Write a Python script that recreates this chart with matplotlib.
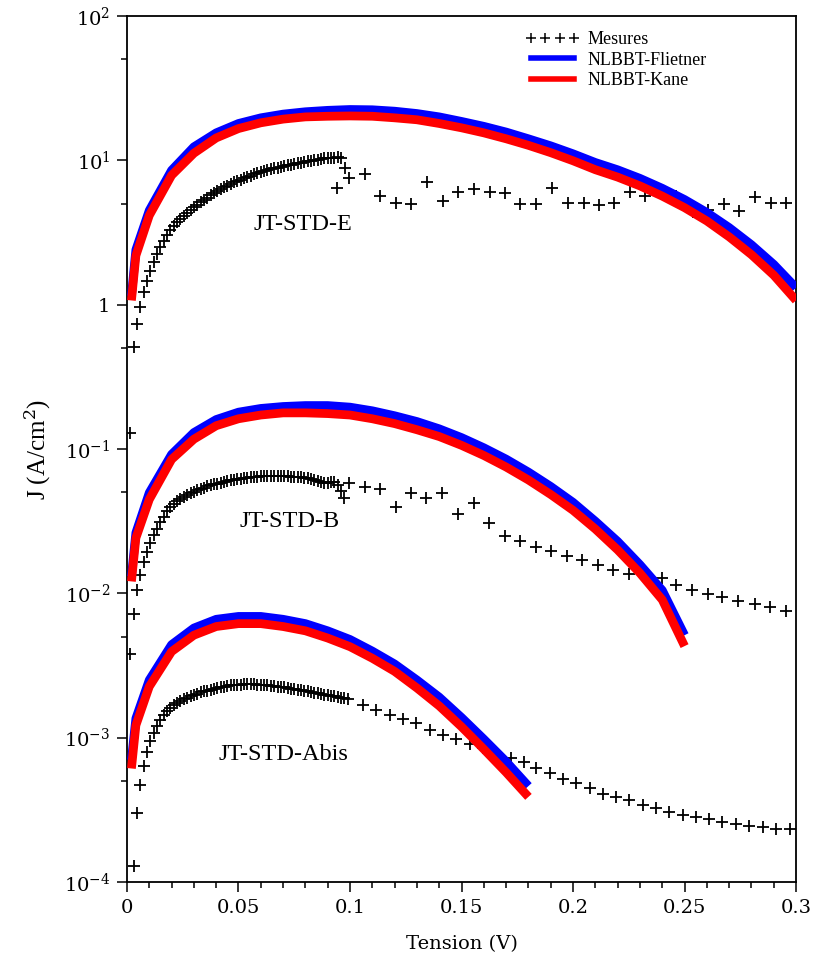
import numpy as np
import matplotlib
matplotlib.use("Agg")
import matplotlib.pyplot as plt
from matplotlib.ticker import FixedLocator, FuncFormatter, NullFormatter
from matplotlib.lines import Line2D

plt.rcParams['mathtext.fontset'] = 'dejavuserif'

# ---- measured data (Mesures) ----
v_dense = [0.0015, 0.003, 0.0045, 0.006, 0.0075, 0.009, 0.0105, 0.012, 0.0135, 0.015,
           0.0165, 0.018, 0.0195, 0.021, 0.0225, 0.024, 0.0255, 0.027, 0.0285, 0.03,
           0.0315, 0.033, 0.0345, 0.036, 0.0375, 0.039, 0.0405, 0.042, 0.0435, 0.045,
           0.0465, 0.048, 0.0495, 0.051, 0.0525, 0.054, 0.0555, 0.057, 0.0585, 0.06,
           0.0615, 0.063, 0.0645, 0.066, 0.0675, 0.069, 0.0705, 0.072, 0.0735, 0.075,
           0.0765, 0.078, 0.0795, 0.081, 0.0825, 0.084, 0.0855, 0.087, 0.0885, 0.09,
           0.0915, 0.093, 0.0945, 0.096, 0.0975, 0.099]

# JT-STD-E
jE_dense = [0.13, 0.51, 0.74, 0.97, 1.22, 1.45, 1.72, 1.98, 2.25, 2.52,
            2.78, 3.05, 3.28, 3.50, 3.72, 3.92, 4.12, 4.32, 4.52, 4.72,
            4.92, 5.12, 5.32, 5.52, 5.72, 5.92, 6.12, 6.32, 6.50, 6.68,
            6.86, 7.03, 7.20, 7.36, 7.52, 7.68, 7.83, 7.98, 8.12, 8.26,
            8.40, 8.53, 8.66, 8.78, 8.90, 9.02, 9.13, 9.24, 9.35, 9.45,
            9.55, 9.65, 9.74, 9.83, 9.92, 10.0, 10.1, 10.2, 10.3, 10.35,
            10.4, 10.45, 10.5, 10.4]
vE_sparse = [0.094, 0.0976, 0.0995, 0.1066, 0.1133, 0.1205, 0.1275, 0.1345, 0.1416, 0.1484,
             0.1554, 0.1626, 0.1693, 0.1763, 0.1835, 0.1906, 0.1977, 0.2047, 0.2115, 0.2185,
             0.2255, 0.2324, 0.2396, 0.2463, 0.2536, 0.2603, 0.2678, 0.2745, 0.2817, 0.2887, 0.2954]
jE_sparse = [6.4, 8.9, 7.5, 8.1, 5.7, 5.1, 5.0, 7.1, 5.2, 6.0,
             6.35, 6.05, 5.9, 5.0, 5.0, 6.4, 5.1, 5.1, 4.9, 5.1,
             6.0, 5.7, 5.8, 5.7, 4.4, 4.55, 4.95, 4.45, 5.6, 5.1, 5.1]

# JT-STD-B
jB_dense = [0.0038, 0.0072, 0.0106, 0.0133, 0.0166, 0.0194, 0.0222, 0.0252, 0.0281, 0.0311,
            0.0340, 0.0372, 0.0395, 0.0418, 0.0438, 0.0452, 0.0468, 0.0482, 0.0495, 0.0507,
            0.0519, 0.0530, 0.0540, 0.0550, 0.0559, 0.0568, 0.0576, 0.0584, 0.0592, 0.0599,
            0.0606, 0.0612, 0.0618, 0.0623, 0.0628, 0.0632, 0.0636, 0.0640, 0.0643, 0.0646,
            0.0648, 0.0649, 0.0650, 0.0650, 0.0650, 0.0649, 0.0648, 0.0647, 0.0645, 0.0643,
            0.0641, 0.0638, 0.0634, 0.0628, 0.0620, 0.0610, 0.0598, 0.0588, 0.0585, 0.0585,
            0.0588, 0.0590, 0.0560, 0.0510, 0.0460]
vB_sparse = [0.0996, 0.1066, 0.1133, 0.1205, 0.1275, 0.134, 0.1413, 0.1484, 0.1554, 0.1623,
             0.1693, 0.1763, 0.1833, 0.1902, 0.1972, 0.204, 0.211, 0.218, 0.2253, 0.2327,
             0.24, 0.246, 0.2533, 0.2603, 0.267, 0.274, 0.2817, 0.2883, 0.2955]
jB_sparse = [0.0583, 0.0545, 0.0527, 0.0395, 0.0498, 0.0459, 0.0498, 0.0352, 0.0424, 0.0308,
             0.0249, 0.0232, 0.0209, 0.0198, 0.0181, 0.0169, 0.0158, 0.0146, 0.0136, 0.0129,
             0.0128, 0.0114, 0.0106, 0.0099, 0.0094, 0.0088, 0.0084, 0.0081, 0.0076]

# JT-STD-Abis (starts at the second voltage step)
jA_dense = [0.00013, 0.00030, 0.00047, 0.00064, 0.00080, 0.00095, 0.00108, 0.00121, 0.00133,
            0.00144, 0.00153, 0.00161, 0.00168, 0.00174, 0.00179, 0.00184, 0.00189, 0.00194, 0.00198,
            0.00202, 0.00206, 0.00209, 0.00212, 0.00215, 0.00218, 0.00221, 0.00224, 0.00226, 0.00228,
            0.00230, 0.00231, 0.00232, 0.00233, 0.00234, 0.00234, 0.00234, 0.00234, 0.00233, 0.00232,
            0.00231, 0.00230, 0.00229, 0.00227, 0.00226, 0.00224, 0.00223, 0.00221, 0.00219, 0.00217,
            0.00215, 0.00213, 0.00211, 0.00209, 0.00207, 0.00205, 0.00203, 0.00201, 0.00199, 0.00197,
            0.00195, 0.00193, 0.00191, 0.00189, 0.00187, 0.00185]
vA_sparse = [0.1058, 0.1118, 0.1178, 0.1237, 0.1297, 0.1357, 0.1417, 0.1476, 0.1536, 0.1596,
             0.1656, 0.1723, 0.1782, 0.1835, 0.1895, 0.1954, 0.2014, 0.2074, 0.2133, 0.2193,
             0.2253, 0.2312, 0.2372, 0.2432, 0.2491, 0.2551, 0.2611, 0.267, 0.273, 0.279,
             0.2853, 0.2912, 0.2972]
jA_sparse = [0.00169, 0.00156, 0.00144, 0.00135, 0.00126, 0.00113, 0.00105, 0.00098, 0.000898, 0.000843,
             0.000766, 0.000727, 0.000675, 0.000612, 0.000565, 0.000516, 0.000482, 0.000445, 0.00041, 0.000389,
             0.000369, 0.000341, 0.000327, 0.000306, 0.000293, 0.000282, 0.000272, 0.000261, 0.000254, 0.000245,
             0.000241, 0.000234, 0.000234]

# ---- NLBBT models ----
v_model = [0.002, 0.004, 0.01, 0.02, 0.03, 0.04, 0.05, 0.06, 0.07, 0.08, 0.09, 0.10,
           0.11, 0.12, 0.13, 0.14, 0.15, 0.16, 0.17, 0.18, 0.19, 0.20,
           0.21, 0.22, 0.23, 0.24, 0.25, 0.26, 0.27, 0.28, 0.29, 0.30]

flietE = [1.15, 2.40, 4.50, 8.53, 12.4, 15.5, 18.0, 19.7, 20.9, 21.7, 22.2, 22.5,
          22.4, 21.9, 21.1, 20.0, 18.6, 17.2, 15.7, 14.1, 12.6, 11.1,
          9.66, 8.60, 7.50, 6.40, 5.35, 4.35, 3.42, 2.60, 1.90, 1.31]
kaneE = [1.07, 2.19, 4.15, 7.87, 11.2, 14.3, 16.6, 18.2, 19.3, 20.0, 20.2, 20.3,
         20.2, 19.7, 19.1, 18.0, 16.8, 15.5, 14.1, 12.7, 11.3, 9.93,
         8.61, 7.65, 6.65, 5.65, 4.70, 3.80, 2.95, 2.22, 1.60, 1.07]

flietB = [0.0131, 0.0263, 0.0498, 0.0918, 0.130, 0.160, 0.180, 0.191, 0.197, 0.200, 0.200, 0.195,
          0.184, 0.170, 0.155, 0.138, 0.120, 0.102, 0.0851, 0.0692, 0.0550, 0.0427,
          0.0316, 0.0229, 0.0158, 0.0105, 0.00513]
kaneB = [0.0121, 0.0242, 0.0447, 0.0847, 0.117, 0.145, 0.162, 0.172, 0.178, 0.178, 0.176, 0.172,
         0.162, 0.150, 0.136, 0.122, 0.106, 0.0902, 0.0750, 0.0610, 0.0484, 0.0376,
         0.0279, 0.0200, 0.0138, 0.00902, 0.00431]

flietA = [0.000700, 0.00136, 0.00251, 0.00441, 0.00575, 0.00661, 0.00692, 0.00692, 0.00661, 0.00617,
          0.00550, 0.00479, 0.00398, 0.00324, 0.00251, 0.00191, 0.00138, 0.000977, 0.000684, 0.000462]
kaneA = [0.000612, 0.00122, 0.00226, 0.00395, 0.00513, 0.00589, 0.00617, 0.00617, 0.00589, 0.00550,
         0.00490, 0.00427, 0.00355, 0.00288, 0.00221, 0.00166, 0.00119, 0.000832, 0.000575, 0.000389]

# axis ticks
x_ticks = [0, 0.05, 0.1, 0.15, 0.2, 0.25, 0.3]
x_minor = [i / 100 for i in range(31)]
y_ticks = [1e-4, 1e-3, 1e-2, 1e-1, 1, 10, 100]
y_minor = [5e-4, 5e-3, 5e-2, 0.5, 5, 50]

fig = plt.figure(figsize=(8.16, 9.58), dpi=100)
ax = fig.add_axes([0.1556, 0.0793, 0.82, 0.9040])

mk = dict(ls='none', marker='+', color='black', ms=9, mew=1.3, zorder=2)
ax.plot(v_dense[:len(jE_dense)] + vE_sparse, jE_dense + jE_sparse, **mk)
ax.plot(v_dense[:len(jB_dense)] + vB_sparse, jB_dense + jB_sparse, **mk)
ax.plot(v_dense[1:1 + len(jA_dense)] + vA_sparse, jA_dense + jA_sparse, **mk)

blue = '#0000ff'
red = '#ff0000'
for fl, ka in [(flietE, kaneE), (flietB, kaneB), (flietA, kaneA)]:
    ax.plot(v_model[:len(fl)], fl, color=blue, lw=6.3, solid_capstyle='butt', zorder=3)
    ax.plot(v_model[:len(ka)], ka, color=red, lw=6.3, solid_capstyle='butt', zorder=4)

ax.set_yscale('log')
ax.set_xlim(0, 0.3)
ax.set_ylim(1e-4, 1e2)

ax.xaxis.set_major_locator(FixedLocator(x_ticks))
ax.xaxis.set_minor_locator(FixedLocator(x_minor))
ax.xaxis.set_major_formatter(FuncFormatter(lambda v, p: '%g' % round(v, 3)))
ax.yaxis.set_major_locator(FixedLocator(y_ticks))
ax.yaxis.set_minor_locator(FixedLocator(y_minor))
ax.yaxis.set_minor_formatter(NullFormatter())


def yfmt(v, p):
    k = int(round(np.log10(v)))
    if k == 0:
        return '1'
    return r'$\mathregular{10^{%d}}$' % k


ax.yaxis.set_major_formatter(FuncFormatter(yfmt))
ax.tick_params(which='both', direction='out', top=False, right=False, width=1.1)
ax.tick_params(which='major', length=7, labelsize=14, pad=5)
ax.tick_params(which='minor', length=4)
for lab in ax.get_xticklabels() + ax.get_yticklabels():
    lab.set_family('DejaVu Serif')
for s in ax.spines.values():
    s.set_linewidth(1.3)

ax.set_xlabel('Tension (V)', family='DejaVu Serif', fontsize=14, labelpad=13)
ax.set_ylabel(r'J (A/cm$^{2}$)', family='Liberation Serif', fontsize=18, labelpad=8)

tfont = dict(family='Liberation Serif', fontsize=17.5, ha='center', va='center')
ax.text(0.079, 3.6, 'JT-STD-E', **tfont)
ax.text(0.073, 0.0316, 'JT-STD-B', **tfont)
ax.text(0.070, 0.00077, 'JT-STD-Abis', **tfont)

handles = [Line2D([], [], ls='none', marker='+', color='black', ms=7.5, mew=1.1),
           Line2D([], [], color=blue, lw=4),
           Line2D([], [], color=red, lw=4)]
fig.legend(handles, ['Mesures', 'NLBBT-Flietner', 'NLBBT-Kane'],
           loc='upper left', bbox_to_anchor=(0.633, 0.977), frameon=False,
           numpoints=4, handlelength=3.0, handletextpad=0.45, labelspacing=0.2,
           borderpad=0, prop={'family': 'Liberation Serif', 'size': 13})

fig.savefig('out.png', dpi=100)
